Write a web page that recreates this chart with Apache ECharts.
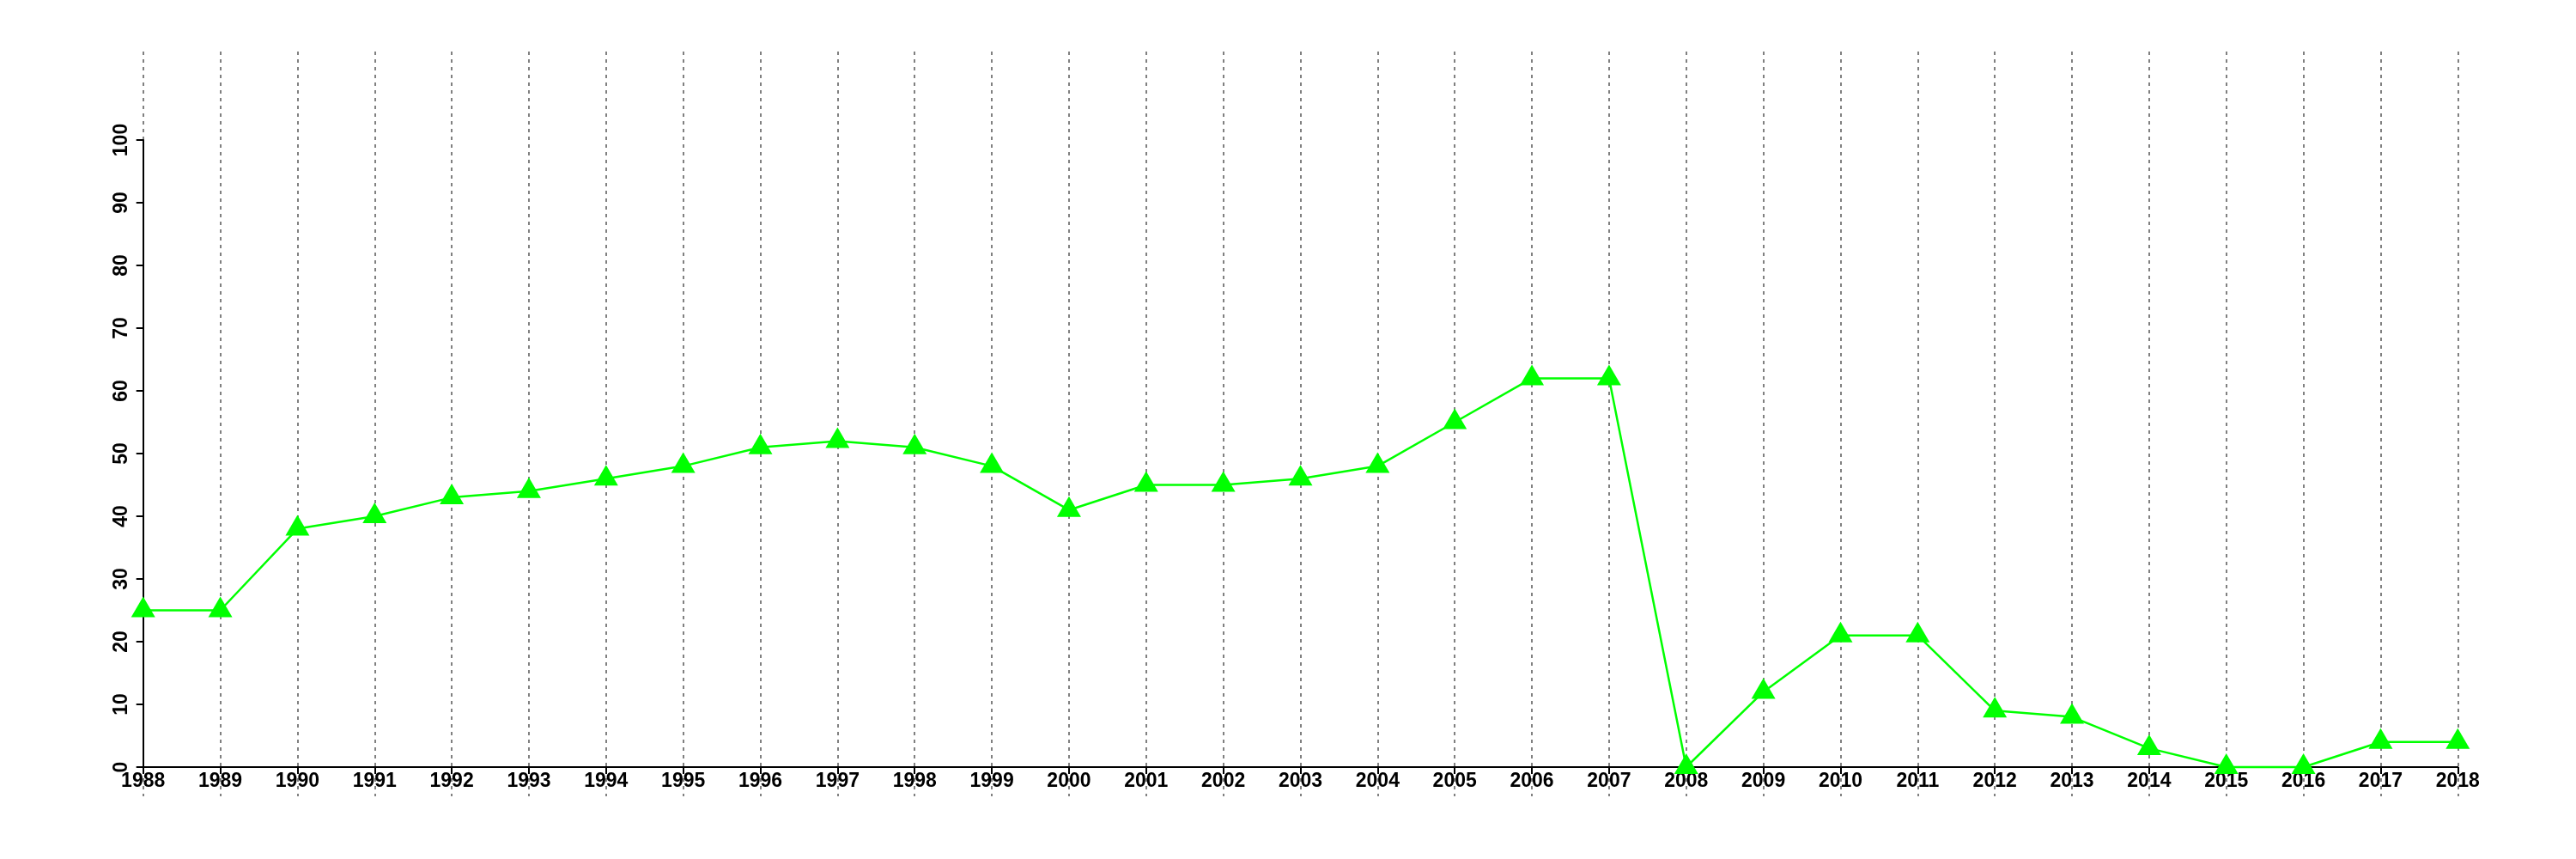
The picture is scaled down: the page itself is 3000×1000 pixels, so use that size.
<!DOCTYPE html>
<html>
<head>
<meta charset="utf-8">
<script src="https://cdn.jsdelivr.net/npm/echarts@6/dist/echarts.min.js"></script>
<style>html,body{margin:0;padding:0;background:#fff}#c{width:3000px;height:1000px}</style>
</head>
<body>
<div id="c"></div>
<script>
const years = [1988,1989,1990,1991,1992,1993,1994,1995,1996,1997,1998,1999,2000,2001,2002,2003,2004,2005,2006,2007,2008,2009,2010,2011,2012,2013,2014,2015,2016,2017,2018];
const values = [25,25,38,40,43,44,46,48,51,52,51,48,41,45,45,46,48,55,62,62,0,12,21,21,9,8,3,0,0,4,4];
const yTicks = [0,10,20,30,40,50,60,70,80,90,100];

const chart = echarts.init(document.getElementById('c'), null, {renderer:'canvas'});
const font = 'Liberation Sans, Arial, Helvetica, sans-serif';
const L = 166.7, R = 137.7;
chart.setOption({
  animation:false,
  backgroundColor:'#fff',
  grid:[
    {left:L, right:R, top:163, bottom:107},
    {left:L, right:R, top:60, bottom:73}
  ],
  xAxis:[
    {type:'value', gridIndex:0, min:years[0], max:years[years.length-1], interval:1,
     axisLine:{show:true, onZero:false, lineStyle:{color:'#000', width:2}},
     axisTick:{show:true, length:8, lineStyle:{color:'#000', width:2}},
     axisLabel:{show:true, color:'#000', fontFamily:font, fontWeight:'bold', fontSize:23, margin:5, formatter:v=>String(v)},
     splitLine:{show:false}},
    {type:'value', gridIndex:1, min:years[0], max:years[years.length-1], interval:1,
     axisLine:{show:false}, axisTick:{show:false}, axisLabel:{show:false},
     splitLine:{show:true, lineStyle:{color:'#808080', width:2, type:[4,5]}}}
  ],
  yAxis:[
    {type:'value', gridIndex:0, min:0, max:100, interval:10,
     axisLine:{show:true, lineStyle:{color:'#000', width:2}},
     axisTick:{show:true, length:8, lineStyle:{color:'#000', width:2}},
     axisLabel:{show:true, rotate:90, color:'#000', fontFamily:font, fontWeight:'bold', fontSize:23, margin:14,
       formatter:v=> yTicks.indexOf(v)>=0 ? String(v) : ''},
     splitLine:{show:false}},
    {type:'value', gridIndex:1, min:0, max:1, show:false, splitLine:{show:false}}
  ],
  series:[
    {type:'line', xAxisIndex:1, yAxisIndex:1, data:[], silent:true},
    {type:'line', xAxisIndex:0, yAxisIndex:0,
     data: years.map((y,i)=>[y, values[i]]),
     lineStyle:{color:'#00ff00', width:2.5},
     itemStyle:{color:'#00ff00'},
     symbol:'triangle', symbolSize:[28,24], symbolOffset:[0,-4],
     showAllSymbol:true, clip:false, z:5}
  ]
});
</script>
</body>
</html>
